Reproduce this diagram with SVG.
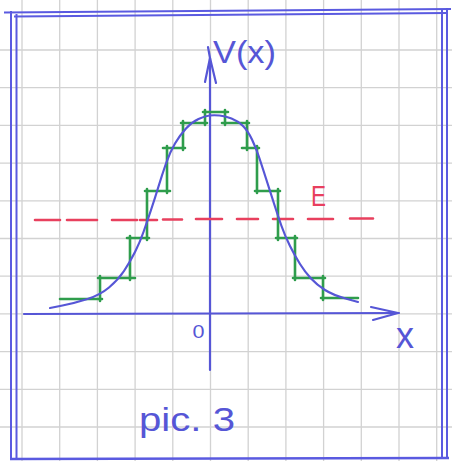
<svg xmlns="http://www.w3.org/2000/svg" width="452" height="461" viewBox="0 0 452 461">
<style>
.grid{stroke:#d2d2d2;stroke-width:1.3;fill:none}
.ink{stroke:#5656d6;stroke-width:2.2;fill:none;stroke-linecap:round;stroke-linejoin:round}
.frame{stroke:#5a5ae0;stroke-width:2;fill:none}
.green{stroke:#2f9d4c;stroke-width:2.6;fill:none;stroke-linecap:round}
.red{stroke:#e8405e;stroke-width:2.6;fill:none;stroke-linecap:round}
.lbl{font-family:"Liberation Sans",Arial,sans-serif;fill:#5656d6}
</style>
<rect x="0" y="0" width="452" height="461" fill="#ffffff"/>
<g id="grid" class="grid">
<path d="M22,0V461M59.7,0V461M97.4,0V461M135.1,0V461M172.8,0V461M210.5,0V461M248.2,0V461M285.9,0V461M323.6,0V461M361.3,0V461M399,0V461M436.7,0V461"/>
<path d="M0,50H452M0,87.7H452M0,125.4H452M0,163.1H452M0,200.8H452M0,238.5H452M0,276.2H452M0,313.9H452M0,351.6H452M0,389.3H452M0,427H452"/>
</g>
<g id="frame" class="frame">
<path d="M4,12.5L451,9"/>
<path d="M14,16.5L447,13"/>
<path d="M11,11V460"/>
<path d="M16.5,14V459"/>
<path d="M442,10V457"/>
<path d="M447,8V459"/>
<path d="M10,459L449,458" stroke-width="2.5"/>
</g>
<g id="connectors">
<g id="x-axis" class="ink">
<path d="M24,314L399,313"/>
<path d="M371,307L398,313L373,320"/>
</g>
<g id="y-axis" class="ink">
<path d="M210,370L210,58L208,47"/>
<path d="M205,82L210,58L216,83"/>
</g>
<g id="energy-level" class="red">
<path d="M35,220H60M67,220H97M112,220H137M140,220H157M163,219.5H182M196,219H222M237,219H258M273,219H293M308,219H333M350,218.5H373"/>
</g>
<g id="staircase" class="green">
<path d="M60,299H102M100,301V276M98,278H135M130,280V236M127,238H149M147,240V189M145,191H170M167,193V146M163,148H185M183,150V121M181,123H207M205,125V110M203,112H228M225,110V125M222,123H249M247,121V150M242,148H259M257,146V193M255,191H280M278,189V240M276,238H297M295,236V280M293,278H325M323,276V300M321,298H358"/>
</g>
<g id="potential-curve" class="ink">
<path d="M50,308 L62.5,305.5 Q75,303 87.5,299 Q100,295 109,287.5 Q118,280 124,271 Q130,262 135,252 Q140,242 143.5,232 Q147,222 151,210 Q155,198 158.5,186.5 Q162,175 166,163.5 Q170,152 175,143.5 Q180,135 186,128.5 Q192,122 198.5,119 Q205,116 209.5,115.5 Q214,115 219.5,115.5 Q225,116 231.5,118.5 Q238,121 243,126 Q248,131 252,139.5 Q256,148 259,157 Q262,166 266,178.5 Q270,191 274,203.5 Q278,216 281.5,226 Q285,236 290,246 Q295,256 300,264 Q305,272 311,278.5 Q317,285 325,290 Q333,295 345.5,298.5 L358,302"/>
</g>
</g>
<g id="labels">
<text id="label-V" class="lbl" x="213" y="63" font-size="31" textLength="63" lengthAdjust="spacingAndGlyphs">V(x)</text>
<text id="label-E" x="311" y="206" font-family="Liberation Sans,Arial,sans-serif" font-size="30" fill="#e8405e" textLength="15" lengthAdjust="spacingAndGlyphs">E</text>
<text id="label-0" class="lbl" x="198.5" y="338" font-size="19" text-anchor="middle" textLength="12" lengthAdjust="spacingAndGlyphs">0</text>
<text id="label-x" class="lbl" x="396" y="348" font-size="36">x</text>
<text id="label-pic" class="lbl" x="139" y="431" font-size="33" textLength="96" lengthAdjust="spacingAndGlyphs">pic. 3</text>
</g>
</svg>
